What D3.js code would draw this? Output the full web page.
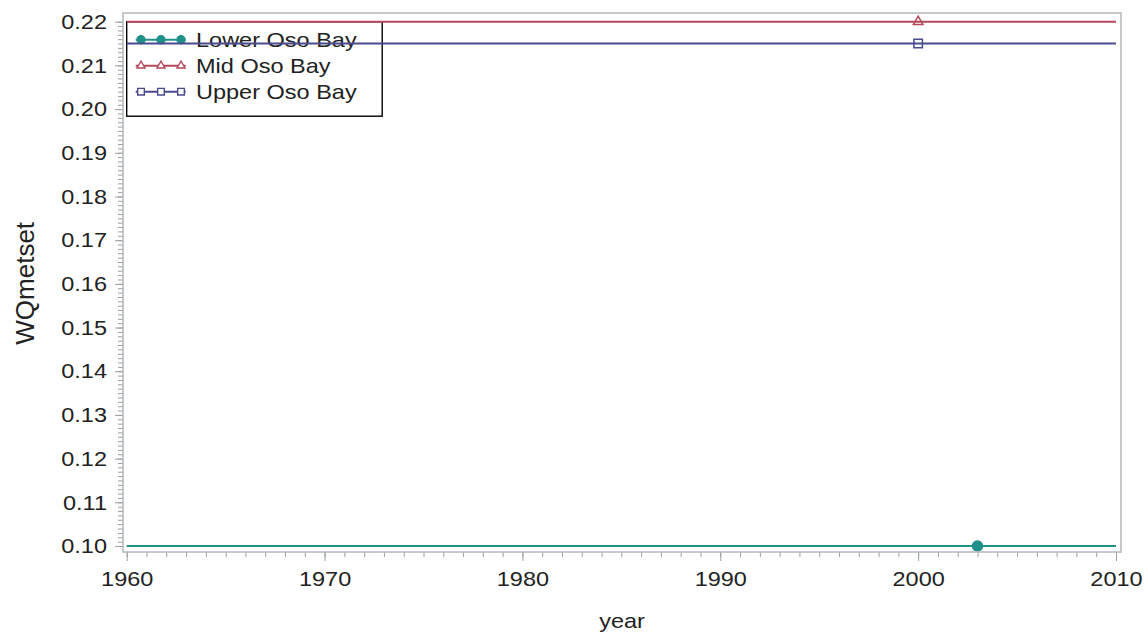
<!DOCTYPE html>
<html>
<head>
<meta charset="utf-8">
<script src="https://cdn.jsdelivr.net/npm/d3@7"></script>
<style>
  body { margin: 0; background: #fff; }
  svg text { font-family: "Liberation Sans", Arial, sans-serif; fill: #222; }
</style>
</head>
<body>
<svg id="chart"></svg>
<script>
// data
const seriesNames = ['Lower Oso Bay', 'Mid Oso Bay', 'Upper Oso Bay'];
const pointYears = [2003, 2000, 2000];
const pointValues = [0.10, 0.22, 0.215];
const lineYears = [1960, 2010];
const xTickValues = [1960, 1970, 1980, 1990, 2000, 2010];
const yTickValues = [0.10, 0.11, 0.12, 0.13, 0.14, 0.15, 0.16, 0.17, 0.18, 0.19, 0.20, 0.21, 0.22];
const seriesColors = ['#22908a', '#b5495c', '#4a4a8e'];
const seriesSymbols = ['circle', 'triangle', 'square'];

const width = 1148, height = 641;
const margin = {top: 13, right: 27, bottom: 89, left: 123};
const innerW = width - margin.left - margin.right;
const innerH = height - margin.top - margin.bottom;
const SX = 1.12; // text in the picture is a bit wider than tall

const svg = d3.select('#chart')
    .attr('width', width)
    .attr('height', height);

const chart = svg.append('g')
    .attr('transform', `translate(${margin.left}, ${margin.top})`);

const xscale = d3.scaleLinear()
    .domain([1960, 2010])
    .range([3.7, 993]);

const yscale = d3.scaleLinear()
    .domain([0.10, 0.22])
    .range([533, 8.7]);

function stretch(sel){
    sel.each(function(){
        const t = d3.select(this);
        const x = +t.attr('x') || 0;
        t.attr('x', x / SX).attr('transform', `scale(${SX},1)`);
    });
}

// axes
const xminor = chart.append('g')
    .attr('transform', `translate(0, ${innerH})`)
    .call(d3.axisBottom(xscale).tickValues(d3.range(1960, 2011, 1)).tickSize(5).tickFormat(''));
const xaxis = chart.append('g')
    .attr('transform', `translate(0, ${innerH})`)
    .call(d3.axisBottom(xscale).tickValues(xTickValues).tickSize(9).tickPadding(10).tickFormat(d3.format('d')));

const yminor = chart.append('g')
    .call(d3.axisLeft(yscale).tickValues(d3.range(100, 221, 1).map(d => d / 1000)).tickSize(5).tickFormat(''));
const yaxis = chart.append('g')
    .call(d3.axisLeft(yscale).tickValues(yTickValues).tickSize(8).tickPadding(8).tickFormat(d3.format('.2f')));

[xminor, xaxis, yminor, yaxis].forEach(g => {
    g.select('.domain').remove();
    g.selectAll('line').attr('stroke', '#9aa0a4');
    g.selectAll('text').attr('font-size', 21).attr('font-family', null).attr('fill', '#222');
});
stretch(xaxis.selectAll('text'));
stretch(yaxis.selectAll('text'));

// axis labels
svg.append('text')
    .attr('x', (margin.left + innerW / 2) / SX)
    .attr('y', 628)
    .attr('transform', `scale(${SX},1)`)
    .attr('text-anchor', 'middle')
    .attr('font-size', 21)
    .text('year');

svg.append('text')
    .attr('transform', `translate(33.5, 283.3) rotate(-90)`)
    .attr('text-anchor', 'middle')
    .attr('font-size', 26)
    .text('WQmetset');

function symbolPath(kind, size){
    const t = kind === 'circle' ? d3.symbolCircle : kind === 'triangle' ? d3.symbolTriangle : d3.symbolSquare;
    return d3.symbol().type(t).size(size)();
}
const markerSize = {circle: 80, triangle: 40, square: 72};
const legendSize = {circle: 50, triangle: 28, square: 44};

// legend (drawn under the data lines)
const legend = chart.append('g')
    .attr('transform', `translate(${xscale(1960)}, ${yscale(0.22)})`);
legend.append('rect')
    .attr('width', 255.5)
    .attr('height', 94.5)
    .attr('fill', 'none')
    .attr('stroke', '#000')
    .attr('stroke-width', 1.4);
seriesNames.forEach((name, i) => {
    const row = legend.append('g').attr('transform', `translate(0, ${18 + i * 26})`);
    row.append('line')
        .attr('x1', 9).attr('x2', 59)
        .attr('stroke', seriesColors[i]).attr('stroke-width', 2);
    [14.3, 34.3, 54.3].forEach(mx => {
        row.append('path')
            .attr('d', symbolPath(seriesSymbols[i], legendSize[seriesSymbols[i]]))
            .attr('transform', `translate(${mx}, 0)`)
            .attr('fill', seriesSymbols[i] === 'circle' ? seriesColors[i] : 'white')
            .attr('stroke', seriesColors[i])
            .attr('stroke-width', 1.4);
    });
    row.append('text')
        .attr('x', 69.3 / SX)
        .attr('y', 7.5)
        .attr('transform', `scale(${SX},1)`)
        .attr('font-size', 21)
        .text(name);
});

// series lines and markers
const line = d3.line()
    .x(d => xscale(d[0]))
    .y(d => yscale(d[1]));

seriesNames.forEach((name, i) => {
    chart.append('path')
        .attr('d', line(lineYears.map(yr => [yr, pointValues[i]])))
        .attr('stroke', seriesColors[i])
        .attr('stroke-width', 2)
        .attr('fill', 'none');
});
seriesNames.forEach((name, i) => {
    chart.append('path')
        .attr('d', symbolPath(seriesSymbols[i], markerSize[seriesSymbols[i]]))
        .attr('transform', `translate(${xscale(pointYears[i])}, ${yscale(pointValues[i])})`)
        .attr('fill', seriesSymbols[i] === 'circle' ? seriesColors[i] : 'none')
        .attr('stroke', seriesColors[i])
        .attr('stroke-width', 1.5);
});

// plot frame
chart.append('rect')
    .attr('width', innerW)
    .attr('height', innerH)
    .attr('fill', 'none')
    .attr('stroke', '#b4b8bc')
    .attr('stroke-width', 1.5);
</script>
</body>
</html>
